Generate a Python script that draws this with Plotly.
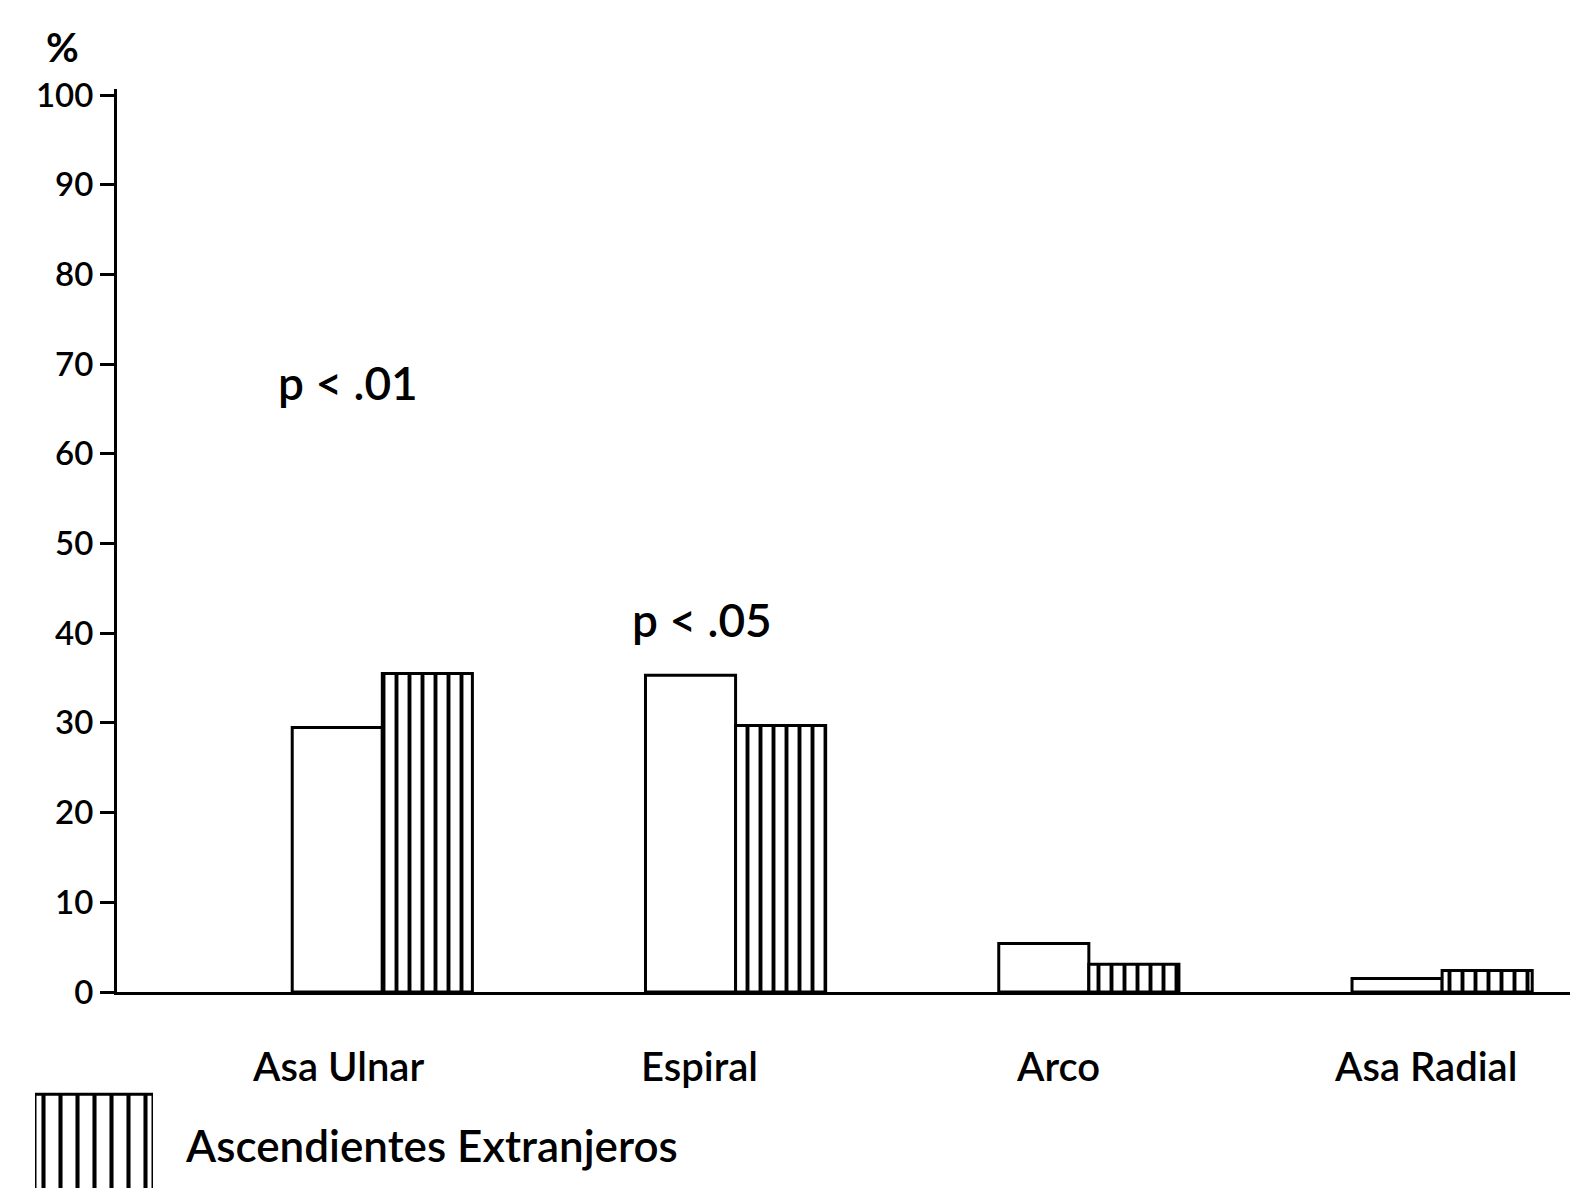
import plotly.graph_objects as go

categories = ["Asa Ulnar", "Espiral", "Arco", "Asa Radial"]
nativos = [29.5, 35.3, 5.4, 1.5]          # open bars
extranjeros = [35.5, 29.7, 3.1, 2.4]      # hatched bars (Ascendientes Extranjeros)
y_ticks = [0, 10, 20, 30, 40, 50, 60, 70, 80, 90, 100]
y_ticklabels = ["0", "10", "20", "30", "40", "50", "60", "70", "80", "90", "100"]
p_labels = ["p < .01", "p < .05"]
p_label_y = [68, 41.5]
legend_label = "Ascendientes Extranjeros"

FONT = "Lato"
WEIGHT = 600
W, H = 1570, 1188
BW = 0.255
xs = list(range(len(categories)))

fig = go.Figure()
fig.add_trace(go.Bar(
    x=xs, y=nativos, width=BW, offset=-BW,
    marker=dict(color="white", line=dict(color="black", width=3)),
    showlegend=False, xaxis="x", yaxis="y"))
fig.add_trace(go.Bar(
    x=xs, y=extranjeros, width=BW, offset=0,
    marker=dict(color="white", line=dict(color="black", width=3),
                pattern=dict(shape="|", fgcolor="black", bgcolor="white",
                             fgopacity=1, size=13, solidity=0.3)),
    showlegend=False, xaxis="x", yaxis="y"))

# legend swatch
fig.add_trace(go.Bar(
    x=[0], y=[1], width=1,
    marker=dict(color="white", line=dict(color="black", width=3),
                pattern=dict(shape="|", fgcolor="black", bgcolor="white",
                             fgopacity=1, size=17, solidity=0.24)),
    showlegend=False, xaxis="x2", yaxis="y2"))

annotations = []
label_shift = [-44, -36, -31, -17]
for i, c in enumerate(categories):
    annotations.append(dict(x=i, y=0, xref="x", yref="y", text=c, showarrow=False,
                            xshift=label_shift[i], yshift=-74,
                            font=dict(family=FONT, size=40, color="black", weight=WEIGHT)))
p_shift = [-34, -34]
for i, (t, yv) in enumerate(zip(p_labels, p_label_y)):
    annotations.append(dict(x=i, y=yv, xref="x", yref="y", text=t, showarrow=False,
                            xshift=p_shift[i],
                            font=dict(family=FONT, size=46, color="black", weight=WEIGHT)))
annotations.append(dict(x=62 / W, y=1 - 47 / H, xref="paper", yref="paper", text="%",
                        showarrow=False, xanchor="center", yanchor="middle",
                        font=dict(family=FONT, size=40, color="black", weight="bold")))
annotations.append(dict(x=183 / W, y=1 - 1145 / H, xref="paper", yref="paper",
                        text=legend_label, showarrow=False, xanchor="left",
                        yanchor="middle",
                        font=dict(family=FONT, size=44, color="black", weight=WEIGHT)))

fig.update_layout(
    width=W, height=H, autosize=False,
    margin=dict(l=0, r=0, t=0, b=0, pad=0, autoexpand=False),
    paper_bgcolor="white", plot_bgcolor="white",
    barmode="overlay",
    xaxis=dict(domain=[117 / W, 1], range=[-0.751, 3.362], showgrid=False,
               zeroline=False, showline=True, linecolor="black", linewidth=3,
               showticklabels=False, ticks="", automargin=False),
    yaxis=dict(domain=[1 - 992 / H, 1 - 89 / H], range=[0, 100.67], showgrid=False,
               zeroline=False, showline=True, linecolor="black", linewidth=3,
               tickvals=y_ticks, ticktext=y_ticklabels, ticks="outside",
               ticklen=14, tickwidth=3, tickcolor="black", automargin=False,
               tickfont=dict(family=FONT, size=33, color="black", weight=WEIGHT)),
    xaxis2=dict(domain=[35 / W, 153 / W], range=[-0.5, 0.5], visible=False,
                anchor="y2", automargin=False),
    yaxis2=dict(domain=[0, 1 - 1091 / H], range=[0.1, 1.03], visible=False,
                anchor="x2", automargin=False),
    annotations=annotations,
)

fig.write_html("out.html", config={"displayModeBar": False},
               post_script="document.body.style.margin='0';document.body.style.overflow='hidden';")
